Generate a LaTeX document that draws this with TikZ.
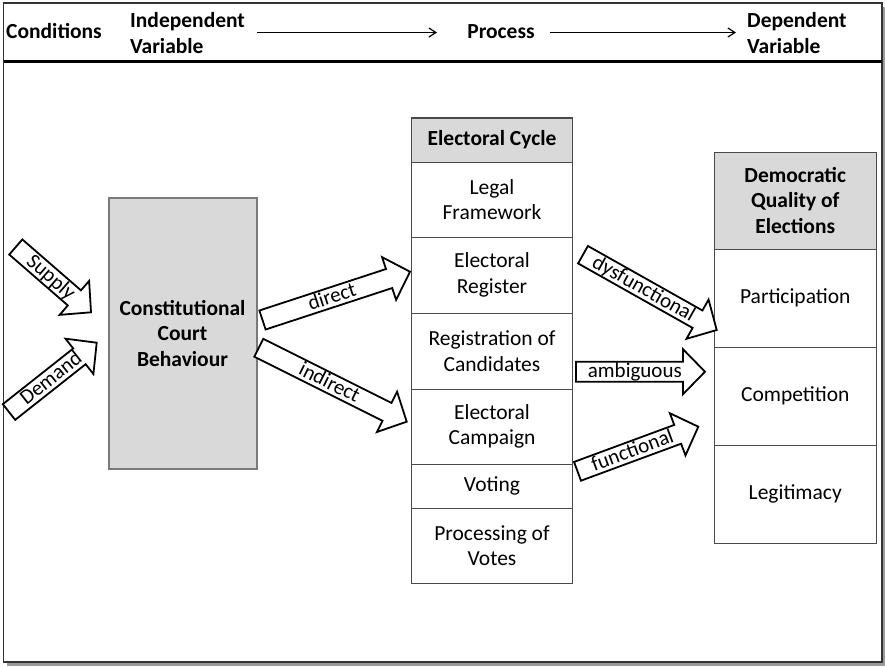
\documentclass[tikz,border=0pt]{standalone}
\usepackage{fontspec}
\setmainfont{Carlito}
\usetikzlibrary{calc,arrows.meta}
\definecolor{cellgray}{HTML}{D9D9D9}
\definecolor{cellline}{HTML}{4A4A4A}
\definecolor{courtline}{HTML}{7A7A7A}
\definecolor{shadowgray}{HTML}{9A9A9A}
\newcommand\myfs{\fontsize{21.5}{25.5}\selectfont}
\newcommand\myblockarrow[4][0.55]{%
  \coordinate (hb) at ($(#3)!22pt!(#2)$);
  \draw[barrowline] ($(#2)!10pt!90:(#3)$) -- ($(hb)!10pt!90:(#3)$) -- ($(hb)!22.5pt!90:(#3)$) -- (#3)
     -- ($(hb)!22.5pt!-90:(#3)$) -- ($(hb)!10pt!-90:(#3)$) -- ($(#2)!10pt!-90:(#3)$) -- cycle;
  \path ($(#2)!6pt!-90:(#3)$) -- ($(hb)!6pt!-90:(#3)$) node[pos=#1, sloped, anchor=base, arrowtext] {#4};
}
\tikzset{
  cell/.style={draw=cellline, line width=1pt, inner sep=0pt, align=center, font=\myfs, minimum width=#1},
  ecell/.style={cell=161pt},
  dcell/.style={cell=162.5pt},
  headcell/.style={fill=cellgray, font=\myfs\bfseries},
  court/.style={draw=courtline, line width=2pt, fill=cellgray, minimum width=148pt, minimum height=271pt, align=center, font=\myfs\bfseries, inner sep=0pt},
  hdrtext/.style={font=\myfs\bfseries, inner sep=0pt, align=left},
  hdrarrow/.style={line width=1.3pt, -{Straight Barb[length=7pt,width=9pt,line width=1.2pt]}},
  barrowline/.style={draw=black, line width=1.8pt, fill=white, line join=miter},
  arrowtext/.style={font=\fontsize{21}{25}\selectfont, inner sep=0pt}
}
\begin{document}
\begin{tikzpicture}[x=1pt,y=-1pt]
\useasboundingbox (0,0) rectangle (885,666);
% frame with shadow
\fill[shadowgray] (7,7) rectangle (885.5,665.5);
\draw[draw=black!80, line width=1.5pt, fill=white] (3.5,3) rectangle (882,662);
\draw[line width=2.6pt] (3.5,61.5) -- (882,61.5);
% header
\node[hdrtext, anchor=west] (cond) at (6,31.5) {Conditions};
\node[hdrtext, anchor=west] (indep) at (130,33) {Independent\\Variable};
\node[hdrtext] (process) at (501,32) {Process};
\node[hdrtext, anchor=west] (dep) at (747,33) {Dependent\\Variable};
\coordinate (ha1) at (257,32.5);
\coordinate (ha2) at (437,32.5);
\coordinate (ha3) at (550,32.5);
\coordinate (ha4) at (736,32.5);
\draw[hdrarrow] (ha1) -- (ha2);
\draw[hdrarrow] (ha3) -- (ha4);
% court
\node[court] (court) at (182.5,333.5) {Constitutional\\Court\\Behaviour};
% electoral cycle
\node[ecell, headcell, minimum height=44pt] (ec0) at (492,140) {Electoral Cycle};
\node[ecell, minimum height=75pt] (ec1) at (492,199.5) {Legal\\Framework};
\node[ecell, minimum height=76pt] (ec2) at (492,275) {Electoral\\Register};
\node[ecell, minimum height=76pt] (ec3) at (492,351) {Registration of\\Candidates};
\node[ecell, minimum height=75pt] (ec4) at (492,426.5) {Electoral\\Campaign};
\node[ecell, minimum height=44pt] (ec5) at (492,486) {Voting};
\node[ecell, minimum height=75pt] (ec6) at (492,545.5) {Processing of\\Votes};
% democratic quality
\node[dcell, headcell, minimum height=97pt] (dq0) at (795.25,200.5) {Democratic\\Quality of\\Elections};
\node[dcell, minimum height=98pt] (dq1) at (795.25,298) {Participation};
\node[dcell, minimum height=98pt] (dq2) at (795.25,396) {Competition};
\node[dcell, minimum height=98pt] (dq3) at (795.25,494) {Legitimacy};
% block arrows
\coordinate (supT) at (15.8,247);
\coordinate (supH) at (91,312.3);
\coordinate (demT) at (9,412);
\coordinate (demH) at (96.7,342.7);
\coordinate (dirT) at (262.5,320);
\coordinate (dirH) at (410,271.7);
\coordinate (indT) at (258.8,347.8);
\coordinate (indH) at (406.7,421.7);
\coordinate (dysT) at (583,254.7);
\coordinate (dysH) at (716.7,330);
\coordinate (ambT) at (576,371.7);
\coordinate (ambH) at (705,371.7);
\coordinate (funT) at (577.5,471.3);
\coordinate (funH) at (698.3,426.7);
\myblockarrow[0.6]{supT}{supH}{Supply}
\myblockarrow[0.6]{demT}{demH}{Demand}
\myblockarrow{dirT}{dirH}{direct}
\myblockarrow{indT}{indH}{indirect}
\myblockarrow[0.53]{dysT}{dysH}{dysfunctional}
\myblockarrow{ambT}{ambH}{ambiguous}
\myblockarrow{funT}{funH}{functional}
\end{tikzpicture}
\end{document}
